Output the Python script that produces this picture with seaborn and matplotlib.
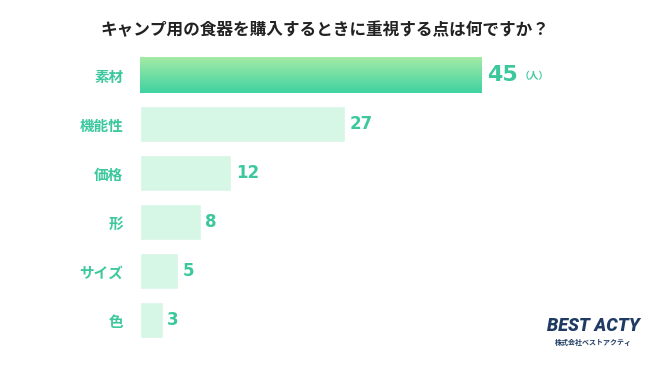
import numpy as np
import pandas as pd
import matplotlib
matplotlib.use("Agg")
import matplotlib.pyplot as plt
import seaborn as sns
from matplotlib.colors import LinearSegmentedColormap

categories = ["素材", "機能性", "価格", "形", "サイズ", "色"]
values = [45, 27, 12, 8, 5, 3]
title = "キャンプ用の食器を購入するときに重視する点は何ですか？"
unit = "（人）"

sns.set_theme(style="white")
plt.rcParams['font.family'] = ['Noto Sans CJK JP', 'DejaVu Sans']

df = pd.DataFrame({"category": categories, "value": values})

fig = plt.figure(figsize=(6.5, 3.66), dpi=100)
ax = fig.add_axes([140/650, 1-344.5/366, 456/650, 294/366])

light = "#d6f6e6"
teal = "#3cc89c"
sns.barplot(data=df, y="category", x="value", hue="category",
            palette=[light]*len(categories), legend=False, width=0.73,
            ax=ax, saturation=1)

ax.set_xlim(0, 60)
ax.set_ylim(5.5, -0.5)
ax.set_xlabel("")
ax.set_ylabel("")
ax.set_xticks([])
for s in ax.spines.values():
    s.set_visible(False)
ax.tick_params(axis="y", length=0, pad=12)
for lab in ax.get_yticklabels():
    lab.set_color(teal)
    lab.set_fontweight("bold")
    lab.set_fontsize(10.5)

# gradient on the top bar
top = ax.patches[0]
top.set_facecolor("none")
x0, y0 = top.get_x(), top.get_y()
w, h = top.get_width(), top.get_height()
cmap = LinearSegmentedColormap.from_list("g", ["#a4eaa6", "#3fd2a2"])
grad = np.linspace(0, 1, 256).reshape(-1, 1)
im = ax.imshow(grad, cmap=cmap, aspect="auto",
               extent=[x0, x0 + w, y0 + h, y0], origin="upper", zorder=top.get_zorder())
im.set_clip_path(top)
ax.set_xlim(0, 60)
ax.set_ylim(5.5, -0.5)

for i, v in enumerate(values):
    if i == 0:
        t = ax.text(v + 0.7, i, str(v), va="center", ha="left", color=teal,
                    fontsize=16, fontweight="bold", family=["DejaVu Sans"])
        ax.annotate(unit, xy=(1, 0.5), xycoords=t, xytext=(1, -1),
                    textcoords="offset points", va="center", ha="left",
                    color=teal, fontsize=7, fontweight="bold")
    else:
        ax.text(v + 0.6, i, str(v), va="center", ha="left", color=teal,
                fontsize=12, fontweight="bold", family=["DejaVu Sans"])

fig.text(0.5, 1-30/366, title, ha="center", va="center", fontsize=12,
         fontweight="bold", color="#222222")

fig.text(593/650, 1-326/366, "BEST ACTY", ha="center", va="center",
         fontsize=13, fontweight="heavy", style="italic", color="#1f3b63",
         family=["Roboto", "DejaVu Sans"])
fig.text(593/650, 1-342/366, "株式会社ベストアクティ", ha="center", va="center",
         fontsize=5, fontweight="bold", color="#1f3b63")

fig.savefig("out.png", dpi=100)
